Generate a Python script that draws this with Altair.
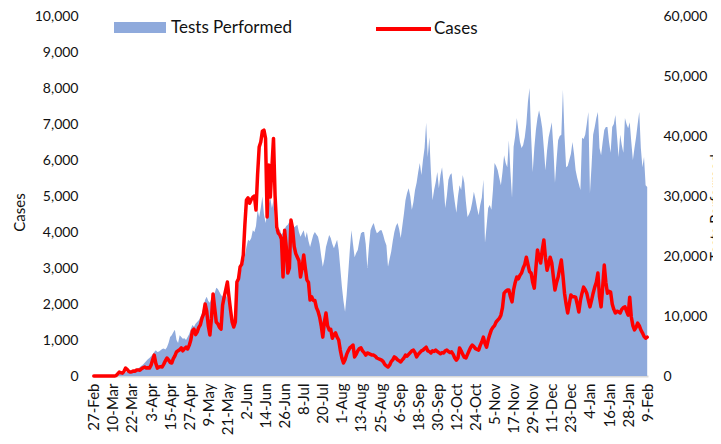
import altair as alt
import pandas as pd

tick_labels = ["27-Feb", "10-Mar", "22-Mar", "3-Apr", "15-Apr", "27-Apr", "9-May", "21-May",
               "2-Jun", "14-Jun", "26-Jun", "8-Jul", "20-Jul", "1-Aug", "13-Aug", "25-Aug",
               "6-Sep", "18-Sep", "30-Sep", "12-Oct", "24-Oct", "5-Nov", "17-Nov", "29-Nov",
               "11-Dec", "23-Dec", "4-Jan", "16-Jan", "28-Jan", "9-Feb"]

# daily new cases, 27-Feb .. 9-Feb
cases = [
    0, 0, 0, 0, 0, 0, 0, 0, 0, 0,
    0, 0, 0, 0, 10, 60, 110, 90, 80, 130,
    220, 180, 130, 110, 120, 140, 130, 170, 170, 160,
    200, 230, 250, 220, 230, 220, 300, 450, 580, 350,
    220, 250, 260, 250, 330, 420, 500, 450, 380, 360,
    480, 560, 670, 700, 730, 780, 700, 760, 800, 750,
    850, 1000, 1250, 1300, 1150, 1220, 1350, 1420, 1600, 1720,
    2000, 1800, 1400, 1140, 1600, 2280, 1900, 1500, 1450, 1350,
    1300, 1970, 2200, 2400, 2610, 2200, 1830, 1500, 1360, 1500,
    2610, 2700, 3030, 3100, 3360, 4200, 4890, 4950, 4800, 4900,
    4970, 5000, 4610, 5600, 6360, 6500, 6800, 6830, 6600, 4420,
    5860, 4970, 5800, 6600, 5000, 4140, 3970, 3920, 3800, 2750,
    4050, 3600, 2860, 3000, 4330, 4100, 3600, 3400, 3300, 3200,
    2750, 3000, 3360, 3000, 2670, 2600, 2110, 2200, 2100, 2100,
    1900, 1800, 1640, 1400, 1080, 1500, 1750, 1400, 1280, 1300,
    1050, 1150, 1200, 1080, 1000, 720, 500, 360, 450, 600,
    700, 780, 820, 860, 530, 600, 700, 760, 780, 700,
    650, 580, 640, 620, 600, 580, 580, 550, 500, 480,
    460, 440, 400, 320, 280, 250, 300, 400, 450, 530,
    500, 450, 420, 390, 450, 500, 580, 550, 600, 650,
    700, 720, 650, 530, 600, 650, 700, 720, 760, 800,
    700, 680, 640, 700, 680, 720, 680, 650, 620, 650,
    640, 700, 720, 680, 650, 670, 600, 500, 440, 500,
    780, 700, 600, 520, 500, 600, 700, 800, 860, 820,
    760, 740, 720, 850, 950, 1080, 900, 800, 1000, 1150,
    1280, 1350, 1400, 1500, 1550, 1600, 1690, 1900, 2300, 2350,
    2390, 2390, 2200, 2060, 2400, 2600, 2750, 2700, 2800, 2860,
    3000, 3100, 3300, 3100, 2900, 2860, 2600, 2440, 3000, 3500,
    3300, 3140, 3500, 3780, 3300, 2940, 3100, 3300, 3140, 2750,
    2390, 2600, 2750, 3000, 3220, 2800, 2300, 2000, 1750, 2000,
    2250, 2200, 2200, 2190, 2000, 1780, 2100, 2300, 2470, 2400,
    2300, 2100, 1920, 2100, 2300, 2470, 2600, 2860, 2200, 1920,
    2470, 3080, 2600, 2300, 2350, 2330, 2000, 1850, 1750, 1800,
    1780, 1750, 1850, 1900, 1920, 1800, 1690, 2190, 1640, 1400,
    1280, 1350, 1470, 1400, 1280, 1200, 1100, 1050, 1080,
]

# daily tests performed, 27-Feb .. 9-Feb
tests = [
    0, 0, 0, 0, 0, 0, 0, 0, 0, 0,
    50, 80, 100, 150, 200, 250, 300, 400, 450, 500,
    600, 700, 800, 900, 950, 1000, 1100, 1200, 1300, 1500,
    1700, 1900, 2200, 2500, 2800, 3000, 3300, 3600, 4000, 4300,
    4000, 4100, 4300, 4500, 4600, 4400, 4800, 5500, 6500, 6800,
    7300, 7700, 6000, 5500, 6800, 6500, 6200, 6300, 6000, 6500,
    7000, 7800, 8500, 8200, 8700, 9000, 9300, 9800, 10500, 11500,
    12700, 13200, 12500, 12200, 13000, 13500, 13800, 14700, 14500, 14000,
    13500, 13200, 13800, 13500, 13000, 12000, 10500, 9500, 8200, 10000,
    13000, 16000, 17000, 18000, 18800, 20000, 21500, 22700, 22500, 23000,
    24300, 24000, 25000, 27700, 26500, 28000, 29900, 27000, 25500, 27000,
    28500, 29700, 28000, 29300, 24300, 24800, 24000, 24500, 23500, 24000,
    24500, 25000, 25200, 25700, 25000, 24500, 24800, 25000, 25200, 24000,
    23200, 23800, 24300, 23000, 24000, 22500, 21500, 22500, 23500, 24000,
    23600, 23200, 22000, 20000, 18200, 19500, 21500, 22500, 23500, 23000,
    22000, 21300, 22000, 22700, 21000, 18000, 14900, 12500, 10700, 13500,
    17200, 21000, 24300, 22000, 19800, 20500, 21000, 22500, 23800, 24000,
    24000, 22000, 18000, 21500, 24300, 25000, 25500, 24500, 23800, 24000,
    24300, 24300, 23500, 22500, 21800, 18200, 19500, 20700, 22500, 24000,
    25000, 25500, 24500, 23000, 25000, 27000, 29300, 30500, 31300, 30000,
    27700, 29000, 31000, 32200, 34000, 35500, 33500, 36000, 38000, 42200,
    36500, 39800, 34000, 29300, 31000, 32300, 34000, 31300, 33500, 34800,
    32000, 28000, 30000, 32700, 33500, 33800, 31000, 29000, 27200, 29900,
    31800, 31000, 33500, 32200, 29000, 26500, 27000, 27700, 29000, 30700,
    29500, 28000, 26800, 28500, 29700, 32700, 22200, 25000, 28000, 28500,
    27700, 31000, 35500, 35000, 34300, 33000, 31800, 34000, 36800, 35500,
    34800, 39300, 34000, 29700, 38200, 40000, 43000, 41000, 39000, 38000,
    38500, 39800, 42000, 45700, 48000, 40000, 34000, 38000, 41000, 43000,
    44300, 43000, 41300, 38000, 34300, 37500, 39800, 41000, 42300, 38000,
    32200, 36000, 39300, 40000, 40200, 47700, 40000, 34800, 35000, 36000,
    37000, 39000, 37000, 34300, 33000, 32000, 31000, 39700, 39500, 40200,
    42000, 44000, 30500, 35000, 40200, 41500, 43000, 44000, 38000, 36800,
    39000, 41000, 41500, 41500, 39000, 37200, 41500, 42000, 43500, 40000,
    36500, 40200, 38500, 37200, 43000, 42000, 41300, 42300, 39000, 36000,
    38000, 39800, 42000, 44000, 38000, 34800, 36500, 31800, 31500,
]

n = len(cases)
df = pd.DataFrame({"day": list(range(n)), "cases": cases, "tests": tests})

FONT = "Lato"
TXT = "#111111"
label_js = "[" + ",".join(f"'{t}'" for t in tick_labels) + "]"

x_enc = alt.X(
    "day:Q",
    scale=alt.Scale(domain=[-0.5, n - 0.5], nice=False, zero=False),
    axis=alt.Axis(
        values=list(range(0, n, 12)),
        labelExpr=f"{label_js}[round(datum.value / 12)]",
        labelAngle=270, labelFontSize=15, labelFont=FONT, labelColor=TXT,
        labelPadding=7, labelFlush=False, labelOverlap=False,
        ticks=False, grid=False, domainColor="#D9D9D9", domainWidth=2,
        title=None,
    ),
)

area = alt.Chart(df).transform_calculate(s1="'Tests Performed'").mark_area(
    opacity=1
).encode(
    x=x_enc,
    y=alt.Y(
        "tests:Q",
        scale=alt.Scale(domain=[0, 60000], nice=False),
        axis=alt.Axis(
            orient="right", values=list(range(0, 60001, 10000)), format=",.0f",
            labelFontSize=14, labelFont=FONT, labelColor=TXT, labelPadding=15,
            ticks=False, domain=False, grid=False,
            title="Tests Performed", titleFont=FONT, titleFontSize=15,
            titleFontWeight="normal", titleColor=TXT, titleAngle=270,
            titleX=72, titleY=191, titleBaseline="alphabetic",
        ),
    ),
    fill=alt.Fill(
        "s1:N",
        scale=alt.Scale(domain=["Tests Performed"], range=["#8FAADC"]),
        legend=alt.Legend(
            orient="none", legendX=21, legendY=-14.5, title=None,
            symbolType="M-1,-0.21H1V0.21H-1Z", symbolSize=2704,
            symbolStrokeWidth=0, symbolOpacity=1, labelOffset=5,
            labelFontSize=17, labelFont=FONT, labelColor=TXT,
        ),
    ),
)

line = alt.Chart(df).transform_calculate(s2="'Cases'").mark_line(
    strokeWidth=3.5, strokeJoin="round", strokeCap="round"
).encode(
    x=x_enc,
    y=alt.Y(
        "cases:Q",
        scale=alt.Scale(domain=[0, 10000], nice=False),
        axis=alt.Axis(
            orient="left", values=list(range(0, 10001, 1000)), format=",.0f",
            labelFontSize=14, labelFont=FONT, labelColor=TXT, labelPadding=15,
            ticks=False, domain=False, grid=False,
            title="Cases", titleFont=FONT, titleFontSize=15,
            titleFontWeight="normal", titleColor=TXT,
            titleX=-66, titleY=196,
        ),
    ),
    stroke=alt.Stroke(
        "s2:N",
        scale=alt.Scale(domain=["Cases"], range=["#FF0000"]),
        legend=alt.Legend(
            orient="none", legendX=281, legendY=-16.5, title=None,
            symbolType="stroke", symbolSize=3025, symbolStrokeWidth=4,
            labelOffset=1, labelFontSize=17, labelFont=FONT, labelColor=TXT,
        ),
    ),
)

chart = alt.layer(area, line).resolve_scale(y="independent").properties(
    width=555, height=360,
    autosize=alt.AutoSizeParams(type="none"),
    padding={"left": 85, "top": 8, "right": 65, "bottom": 60},
    background="white",
).configure_view(stroke=None)

chart.save("out.html", embed_options={"renderer": "svg", "actions": False})
